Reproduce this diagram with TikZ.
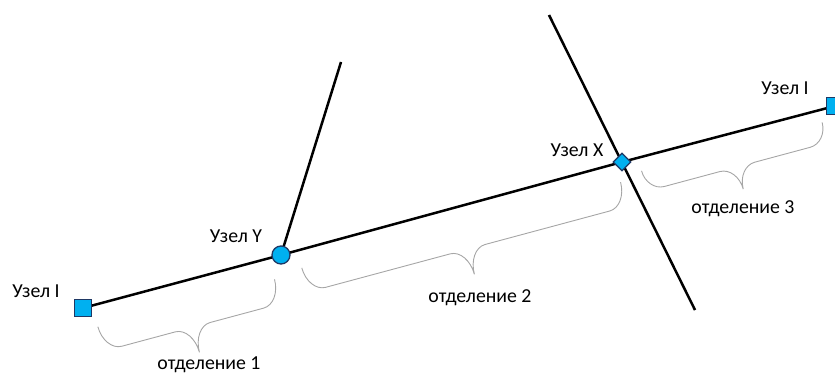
\documentclass[tikz,border=0pt]{standalone}
\usepackage{fontspec}
\setmainfont{Carlito}
\usetikzlibrary{shapes.geometric}
\definecolor{nodefill}{HTML}{00B0F0}
\definecolor{nodeline}{HTML}{1F3864}
\definecolor{bracegray}{HTML}{A6A6A6}
\newcommand{\bracer}{18}
% a0, a1 (along the line), p (offset of the ends), d (body depth), D (tip depth)
\newcommand{\sectbrace}[5]{%
  \draw[bracestyle] ({#1},{#3})
    .. controls ({#1},{#3+0.552*#4}) and ({#1+0.448*\bracer},{#3+#4}) .. ({#1+\bracer},{#3+#4})
    -- ({(#1+#2)/2-\bracer},{#3+#4})
    .. controls ({(#1+#2)/2-0.448*\bracer},{#3+#4}) and ({(#1+#2)/2},{#3+#4+0.448*(#5-#4)}) .. ({(#1+#2)/2},{#3+#5})
    .. controls ({(#1+#2)/2},{#3+#4+0.448*(#5-#4)}) and ({(#1+#2)/2+0.448*\bracer},{#3+#4}) .. ({(#1+#2)/2+\bracer},{#3+#4})
    -- ({#2-\bracer},{#3+#4})
    .. controls ({#2-0.448*\bracer},{#3+#4}) and ({#2},{#3+0.552*#4}) .. ({#2},{#3});%
}
\tikzset{
  pipe/.style={line width=2.5pt, black},
  nodebase/.style={draw=nodeline, fill=nodefill, line width=1.3pt, inner sep=0pt},
  sqnode/.style={nodebase, rectangle, minimum size=17pt},
  circnode/.style={nodebase, circle, minimum size=18pt},
  dianode/.style={nodebase, diamond, minimum size=18pt},
  bracestyle/.style={draw=bracegray, line width=0.9pt},
  lbl/.style={font=\fontsize{19.8}{22}\selectfont, anchor=base, inner sep=0pt, text=black}
}
\begin{document}
\begin{tikzpicture}[x=1pt, y=-1pt]
\useasboundingbox (0,0) rectangle (835,374);
\clip (0,0) rectangle (835,374);
% free ends of the branch lines
\coordinate (ytop) at (341,62);
\coordinate (xtop) at (549,15);
\coordinate (xbot) at (695,310);
% node positions
\coordinate (pI1) at (83,308);
\coordinate (pY) at (281,255);
\coordinate (pX) at (622,162);
\coordinate (pI2) at (835,106);
% lines
\draw[pipe] (pI1) -- (pY) -- (pX) -- (pI2);
\draw[pipe] (pY) -- (ytop);
\draw[pipe] (xtop) -- (xbot);
% nodes
\node[sqnode] (I1) at (pI1) {};
\node[circnode] (Y) at (pY) {};
\node[dianode] (X) at (pX) {};
\node[sqnode] (I2) at (pI2) {};
% braces
\begin{scope}[shift={(I1.center)}, rotate=15.04]
  \sectbrace{9.5}{192.4}{22}{25}{51}
  \sectbrace{221.7}{551.8}{18}{25}{51}
  \sectbrace{575}{762}{12.5}{21}{44}
\end{scope}
% labels
\node[lbl] (tI1) at (36,297) {Узел I};
\node[lbl] (tY) at (236,242) {Узел Y};
\node[lbl] (tX) at (577,157) {Узел X};
\node[lbl] (tI2) at (785,95) {Узел I};
\node[lbl] (t1) at (209,369) {отделение 1};
\node[lbl] (t2) at (480,302) {отделение 2};
\node[lbl] (t3) at (743,214) {отделение 3};
\end{tikzpicture}
\end{document}
